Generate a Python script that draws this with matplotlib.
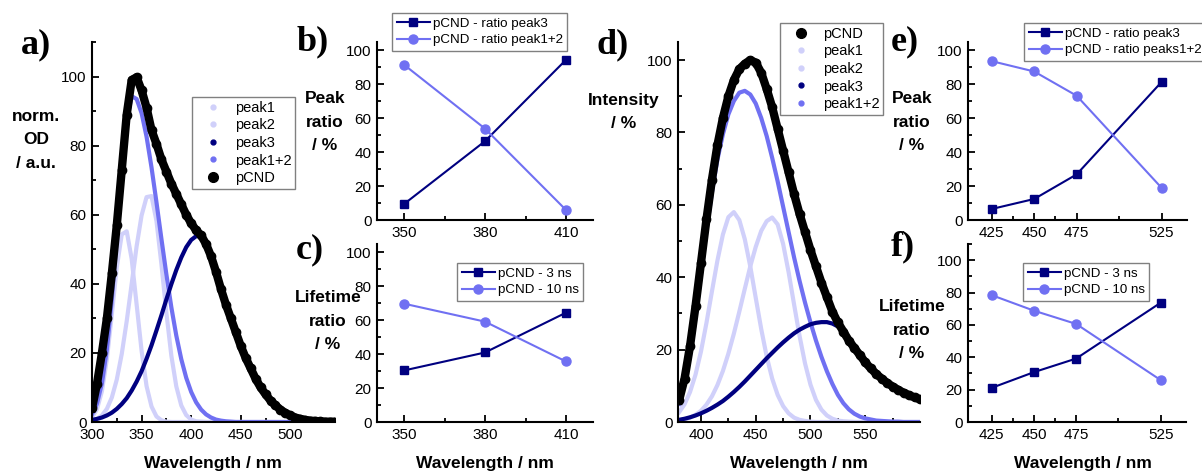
import numpy as np
import matplotlib
matplotlib.use('Agg')
import matplotlib.pyplot as plt
from matplotlib.lines import Line2D
from matplotlib.ticker import MultipleLocator, FixedLocator

plt.rcParams['font.family'] = ['Liberation Sans', 'DejaVu Sans']

# ---- absorption spectrum (a), values read every 5 nm ----
wl_a = np.arange(300, 550, 5)
pcnd_a = [4, 11, 20, 30, 43, 57, 73, 89, 99, 99.8, 96, 91, 84.5, 80.5, 76, 72.5, 69, 66, 63, 60,
          57.5, 55.5, 54, 51.5, 48, 43.5, 38.5, 34, 30, 26, 22, 18.5, 15.5, 12.5, 10, 8, 6.2, 4.8, 3.6, 2.6,
          1.9, 1.3, 0.9, 0.6, 0.4, 0.3, 0.2, 0.1, 0.1, 0.1]
peak1_a = [1.3, 3.7, 8.9, 18.2, 31.1, 44.8, 54.3, 55.2, 47.2, 34.0, 20.6, 10.4, 4.5, 1.6, 0.5, 0.1] + [0] * 34
peak2_a = [0.4, 0.9, 1.9, 3.8, 7.1, 12.3, 19.7, 29.2, 40.0, 50.9, 59.8, 65.1, 65.4, 58.2, 45.7, 31.6,
           19.2, 10.3, 4.8, 2.0, 0.7, 0.2, 0.1] + [0] * 27
peak3_a = [0.6, 0.9, 1.3, 1.9, 2.7, 3.8, 5.2, 6.9, 9.1, 11.7, 14.7, 18.3, 22.2, 26.5, 30.9, 35.5, 39.9,
           44.0, 47.6, 50.6, 52.7, 53.8, 53.8, 51.5, 47.5, 43, 38.2, 33.8, 29.6, 25.6, 21.7, 18.2, 15.1,
           12.2, 9.7, 7.6, 5.9, 4.5, 3.4, 2.5, 1.8, 1.2, 0.8, 0.5, 0.3, 0.2, 0.1, 0, 0, 0]
peak12_a = [2.2, 5.3, 11.2, 21.0, 35.5, 53.5, 72.2, 87.2, 94.3, 93.5, 89.4, 82.6, 73.7, 63.6, 53.0, 42.7,
            33.2, 25.0, 18.2, 12.8, 8.7, 5.7, 3.6, 2.2, 1.3, 0.7, 0.4, 0.2, 0.1] + [0] * 21

# ---- emission spectrum (d), values read every 5 nm ----
wl_d = np.arange(380, 605, 5)
pcnd_d = [6, 12, 21, 32, 44, 56, 67, 76.5, 84, 90, 94.5, 97.5, 99, 100, 99.3, 96.5, 92, 87, 81, 75,
          69, 63, 57.5, 52.5, 47.5, 43, 38.5, 34.5, 30.5, 27.5, 25, 22.5, 20.5, 18.5, 16.5, 14.8, 13.3,
          12, 10.8, 9.8, 8.9, 8.1, 7.4, 6.8, 6.3]
peak1_d = [2.7, 4.9, 8.3, 13.1, 19.5, 27.4, 36.1, 44.6, 51.8, 56.6, 58, 55.8, 50.5, 43, 34.3, 25.7,
           18.1, 12, 7.5, 4.4, 2.4, 1.2, 0.6, 0.3, 0.1] + [0] * 20
peak2_d = [0.4, 0.7, 1.2, 2.0, 3.1, 4.8, 7.1, 10.2, 14.1, 18.9, 24.4, 30.5, 36.8, 43, 48.4, 52.8, 55.5,
           56.5, 54.6, 49.2, 41.4, 32.5, 23.8, 16.2, 10.3, 6.1, 3.4, 1.8, 0.9, 0.4, 0.2, 0.1] + [0] * 13
peak3_d = [0.6, 0.9, 1.3, 1.8, 2.4, 3.1, 3.9, 4.8, 5.8, 7.0, 8.3, 9.7, 11.2, 12.8, 14.4, 16.0, 17.6,
           19.1, 20.6, 22.0, 23.3, 24.5, 25.5, 26.3, 27.0, 27.4, 27.6, 27.6, 27.2, 26.4, 25.0, 22.9,
           20.6, 18.5, 16.5, 14.8, 13.2, 11.9, 10.7, 9.7, 8.8, 8.0, 7.3, 6.7, 6.2]
peak12_d = [5, 10.5, 18.5, 29, 41, 53, 63.5, 72.5, 79.5, 85, 88.7, 91, 91.5, 90.5, 88, 84, 79, 73,
            66.5, 59.5, 52.5, 45.5, 39, 33, 27.5, 22.5, 18, 14, 10.5, 7.5, 5.2, 3.5, 2.3, 1.5, 1.0,
            0.7, 0.4, 0.3, 0.2, 0.1, 0.1, 0, 0, 0, 0]

# ---- ratio panels ----
exc_bc = [350, 380, 410]
ratio3_b = [9.4, 46.5, 94.5]
ratio12_b = [91.6, 53.9, 5.9]
life3_c = [30.4, 41, 64.5]
life10_c = [69.8, 59.2, 35.7]

exc_ef = [425, 450, 475, 525]
ratio3_e = [6.5, 12.4, 26.9, 81.4]
ratio12_e = [93.7, 87.6, 73.3, 19]
life3_f = [21.1, 30.8, 39.2, 73.7]
life10_f = [78.4, 68.8, 60.6, 25.9]

NAVY = '#000080'
MID = '#7070f2'
LIGHT = '#d0d0fa'

W, H = 1202, 473
fig = plt.figure(figsize=(W / 100, H / 100), dpi=100)


def add_ax(l, t, r, b):
    return fig.add_axes([l / W, 1 - b / H, (r - l) / W, (b - t) / H])


def style(ax):
    for s in ['top', 'right']:
        ax.spines[s].set_visible(False)
    for s in ['left', 'bottom']:
        ax.spines[s].set_linewidth(1.5)
    ax.tick_params(which='both', direction='in', width=1.3, labelsize=11, pad=4)
    ax.tick_params(which='major', length=5)
    ax.tick_params(which='minor', length=3)
    ax.yaxis.set_major_locator(MultipleLocator(20))
    ax.yaxis.set_minor_locator(MultipleLocator(10))


def ftext(x, y, s, **kw):
    fig.text(x / W, 1 - y / H, s, ha='center', va='center', **kw)


def letter(x, y, s):
    fig.text(x / W, 1 - y / H, s, ha='left', va='center', fontsize=26,
             fontweight='bold', family='Liberation Serif')


def legend(ax, handles, labels, x, y, fs=9.6, **kw):
    leg = ax.legend(handles, labels, loc='upper left', bbox_to_anchor=(x / W, 1 - y / H),
                    bbox_transform=fig.transFigure, borderaxespad=0, fancybox=False,
                    edgecolor='#808080', framealpha=1, fontsize=fs, **kw)
    leg.get_frame().set_linewidth(1.0)
    return leg


def spectrum(ax, wl, p1, p2, p3, p12, pc):
    ax.plot(wl, p1, color=LIGHT, lw=3)
    ax.plot(wl, p2, color=LIGHT, lw=3)
    ax.plot(wl, p12, color=MID, lw=3)
    ax.plot(wl, p3, color=NAVY, lw=3)
    ax.plot(wl, pc, color='k', lw=6)
    ax.plot(wl, pc, 'o', color='k', ms=6)


def dot(c, ms):
    return Line2D([], [], ls='none', marker='o', color=c, ms=ms)


spec_leg = dict(fs=10.5, handlelength=2.4, handletextpad=0.3, labelspacing=0.25, borderpad=0.25)
ratio_leg = dict(handlelength=2.5, handletextpad=0.2, labelspacing=0.3, borderpad=0.35)

# a)
ax_a = add_ax(92, 42, 335, 422)
style(ax_a)
spectrum(ax_a, wl_a, peak1_a, peak2_a, peak3_a, peak12_a, pcnd_a)
ax_a.set_xlim(300, 545)
ax_a.set_ylim(0, 110)
ax_a.xaxis.set_major_locator(FixedLocator([300, 350, 400, 450, 500]))
ax_a.xaxis.set_minor_locator(FixedLocator([325, 375, 425, 475, 525]))
legend(ax_a, [dot(LIGHT, 3.5), dot(LIGHT, 3.5), dot(NAVY, 3.5), dot(MID, 3.5), dot('k', 7)],
       ['peak1', 'peak2', 'peak3', 'peak1+2', 'pCND'], 192, 97, **spec_leg)

# b)
ax_b = add_ax(377, 42, 593, 220)
style(ax_b)
ax_b.plot(exc_bc, ratio3_b, '-s', color=NAVY, lw=1.5, ms=5.5, label='pCND - ratio peak3')
ax_b.plot(exc_bc, ratio12_b, '-o', color=MID, lw=1.5, ms=6.5, label='pCND - ratio peak1+2')
ax_b.set_xlim(340, 420)
ax_b.set_ylim(0, 105)
ax_b.xaxis.set_major_locator(FixedLocator(exc_bc))
ax_b.xaxis.set_minor_locator(FixedLocator([365, 395]))
h, l = ax_b.get_legend_handles_labels()
legend(ax_b, h, l, 392, 13, **ratio_leg)

# c)
ax_c = add_ax(377, 244, 593, 422)
style(ax_c)
ax_c.plot(exc_bc, life3_c, '-s', color=NAVY, lw=1.5, ms=5.5, label='pCND - 3 ns')
ax_c.plot(exc_bc, life10_c, '-o', color=MID, lw=1.5, ms=6.5, label='pCND - 10 ns')
ax_c.set_xlim(340, 420)
ax_c.set_ylim(0, 105)
ax_c.xaxis.set_major_locator(FixedLocator(exc_bc))
ax_c.xaxis.set_minor_locator(FixedLocator([365, 395]))
h, l = ax_c.get_legend_handles_labels()
legend(ax_c, h, l, 457, 263, **ratio_leg)

# d)
ax_d = add_ax(678, 42, 920, 422)
style(ax_d)
spectrum(ax_d, wl_d, peak1_d, peak2_d, peak3_d, peak12_d, pcnd_d)
ax_d.set_xlim(379, 600)
ax_d.set_ylim(0, 105)
ax_d.xaxis.set_major_locator(FixedLocator([400, 450, 500, 550]))
ax_d.xaxis.set_minor_locator(FixedLocator([425, 475, 525, 575]))
legend(ax_d, [dot('k', 7), dot(LIGHT, 3.5), dot(LIGHT, 3.5), dot(NAVY, 3.5), dot(MID, 3.5)],
       ['pCND', 'peak1', 'peak2', 'peak3', 'peak1+2'], 780, 23, **spec_leg)

# e)
ax_e = add_ax(968, 42, 1187, 220)
style(ax_e)
ax_e.plot(exc_ef, ratio3_e, '-s', color=NAVY, lw=1.5, ms=5.5, label='pCND - ratio peak3')
ax_e.plot(exc_ef, ratio12_e, '-o', color=MID, lw=1.5, ms=6.5, label='pCND - ratio peaks1+2')
ax_e.set_xlim(411, 540)
ax_e.set_ylim(0, 105)
ax_e.xaxis.set_major_locator(FixedLocator(exc_ef))
ax_e.xaxis.set_minor_locator(FixedLocator([437.5, 462.5, 500]))
h, l = ax_e.get_legend_handles_labels()
legend(ax_e, h, l, 1024, 23, **ratio_leg)

# f)
ax_f = add_ax(968, 244, 1186, 422)
style(ax_f)
ax_f.plot(exc_ef, life3_f, '-s', color=NAVY, lw=1.5, ms=5.5, label='pCND - 3 ns')
ax_f.plot(exc_ef, life10_f, '-o', color=MID, lw=1.5, ms=6.5, label='pCND - 10 ns')
ax_f.set_xlim(411, 540)
ax_f.set_ylim(0, 110)
ax_f.xaxis.set_major_locator(FixedLocator(exc_ef))
ax_f.xaxis.set_minor_locator(FixedLocator([437.5, 462.5, 500]))
h, l = ax_f.get_legend_handles_labels()
legend(ax_f, h, l, 1023, 263, **ratio_leg)

# axis titles
lab = dict(fontsize=12.5, fontweight='bold', linespacing=1.7)
ftext(36, 140, 'norm.\nOD\n/ a.u.', **lab)
ftext(325, 122, 'Peak\nratio\n/ %', **lab)
ftext(328, 321, 'Lifetime\nratio\n/ %', **lab)
ftext(624, 112, 'Intensity\n/ %', **lab)
ftext(912, 122, 'Peak\nratio\n/ %', **lab)
ftext(912, 330, 'Lifetime\nratio\n/ %', **lab)
for xc in [213, 485, 799, 1083]:
    ftext(xc, 463, 'Wavelength / nm', fontsize=12.5, fontweight='bold')

letter(21, 45, 'a)')
letter(297, 42, 'b)')
letter(296, 250, 'c)')
letter(597, 45, 'd)')
letter(891, 42, 'e)')
letter(891, 247, 'f)')

fig.savefig('out.png', dpi=100)
